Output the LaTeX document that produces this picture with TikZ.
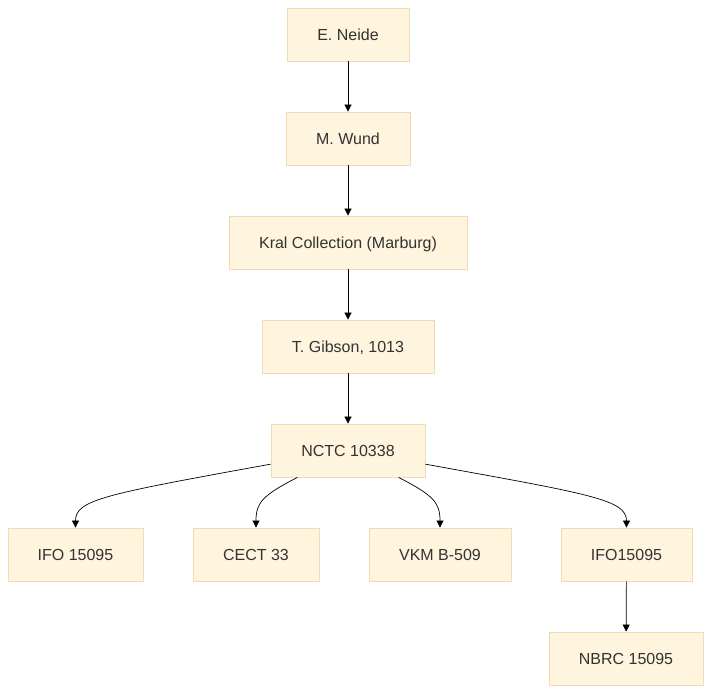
\documentclass[tikz,border=0pt]{standalone}
\usepackage{fontspec}
\setmainfont{Liberation Sans}
\usepackage{xcolor}
\usetikzlibrary{arrows.meta}
\definecolor{boxfill}{HTML}{FFF4DD}
\definecolor{boxline}{HTML}{EEDDB4}
\definecolor{boxtext}{HTML}{333333}

\begin{document}
\begin{tikzpicture}[x=1pt, y=-1pt,
    strain/.style={draw=boxline, fill=boxfill, line width=0.8pt, minimum height=53pt,
        inner sep=0pt, text height=12.3pt, text depth=0.5pt, text=boxtext,
        font=\fontsize{16}{19}\selectfont},
    link/.style={-{Triangle[length=7pt,width=7pt]}, line width=0.7pt, black}]
    \useasboundingbox (0,0) rectangle (712,694);

    % Chain of owners
    \node[strain, minimum width=122pt] (neide) at (348,34.5) {E. Neide};
    \node[strain, minimum width=124pt] (wund) at (348,138.5) {M. Wund};
    \node[strain, minimum width=238pt] (kral) at (348,242.5) {Kral Collection (Marburg)};
    \node[strain, minimum width=172pt] (gibson) at (348,346.5) {T. Gibson, 1013};
    \node[strain, minimum width=154pt] (nctc) at (348,450.5) {NCTC 10338};

    % Collections
    \node[strain, minimum width=135pt] (ifoa) at (75.5,554.5) {IFO 15095};
    \node[strain, minimum width=126pt] (cect) at (256,554.5) {CECT 33};
    \node[strain, minimum width=142pt] (vkm) at (440,554.5) {VKM B-509};
    \node[strain, minimum width=131pt] (ifob) at (626.5,554.5) {IFO15095};
    \node[strain, minimum width=154pt] (nbrc) at (626,658.5) {NBRC 15095};

    % Arrows
    \draw[link] (neide) -- (wund);
    \draw[link] (wund) -- (kral);
    \draw[link] (kral) -- (gibson);
    \draw[link] (gibson) -- (nctc);
    \draw[link] (nctc.190) .. controls +(-165,30) and +(0,-28) .. (ifoa.north);
    \draw[link] (nctc.208) .. controls +(-35,18) and +(0,-25) .. (cect.north);
    \draw[link] (nctc.-28) .. controls +(35,18) and +(0,-25) .. (vkm.north);
    \draw[link] (nctc.-10) .. controls +(165,30) and +(0,-28) .. (ifob.north);
    \draw[link] (ifob) -- (nbrc);
\end{tikzpicture}
\end{document}
